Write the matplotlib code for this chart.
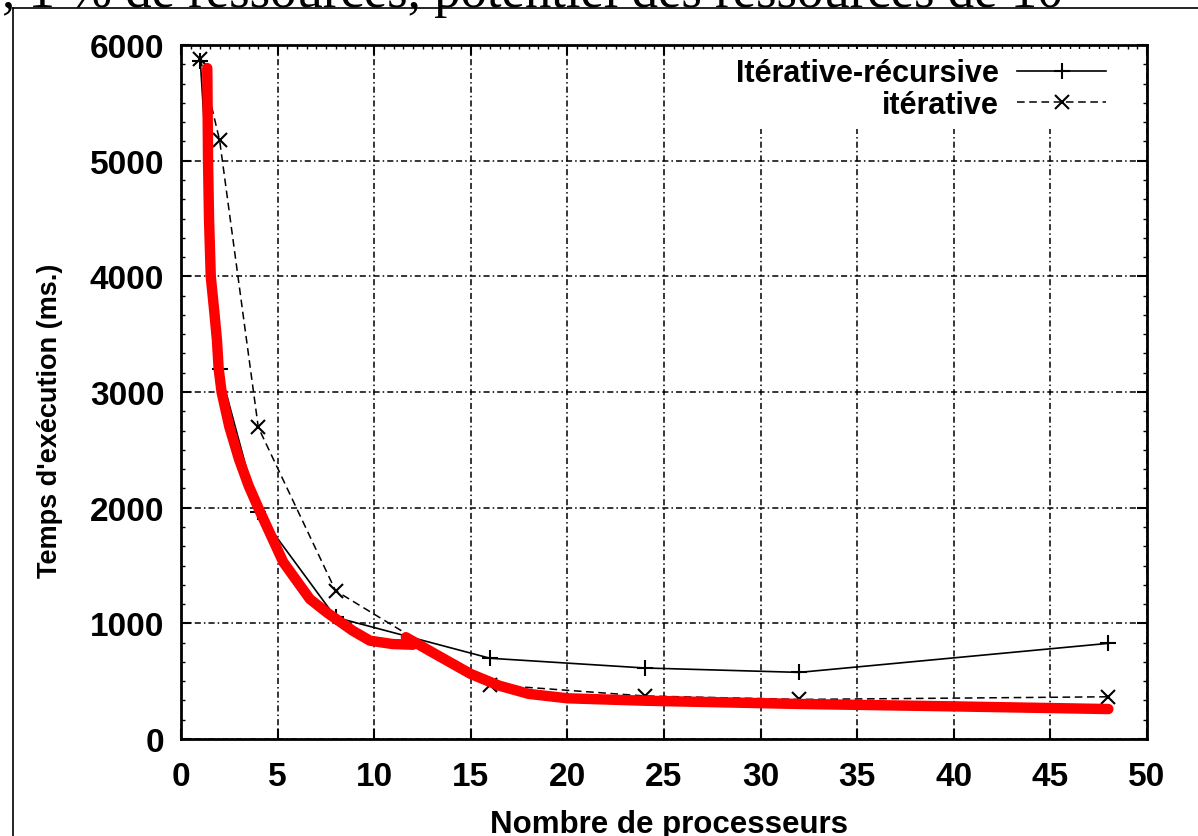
import matplotlib
matplotlib.use("Agg")
import matplotlib.pyplot as plt
from matplotlib.lines import Line2D
from matplotlib.ticker import MultipleLocator, AutoMinorLocator

# data
procs = [1, 2, 4, 8, 16, 24, 32, 48]
iter_rec = [5860, 3200, 1960, 1052, 698, 614, 576, 827]
iterative = [5880, 5175, 2695, 1282, 470, 372, 342, 365]

# hand drawn red curve, two strokes
red_x1 = [1.36, 1.40, 1.45, 1.54, 1.72, 1.86, 1.95, 2.1, 2.5, 3.0, 3.5, 4.05, 5.29, 6.67,
          7.54, 8.88, 9.78, 10.95, 12.0]
red_y1 = [5800, 5000, 4500, 4000, 3700, 3450, 3200, 3000, 2700, 2420, 2190, 1980, 1530, 1210,
          1095, 937, 850, 821, 815]
red_x2 = [11.64, 13.0, 15.0, 16.47, 18, 20, 24, 32, 40, 48]
red_y2 = [880, 750, 562, 461, 390, 352, 331, 303, 282, 259]

xticks = list(range(0, 51, 5))
yticks = list(range(0, 6001, 1000))

W, H = 1198, 837
fig = plt.figure(figsize=(W / 100, H / 100), dpi=100)
ax = fig.add_axes([181 / W, 1 - 740 / H, (1147 - 181) / W, (740 - 46) / H])

sans = ["Liberation Sans", "DejaVu Sans"]

ax.grid(True, color="black", lw=1.1, linestyle=(0, (4, 2, 1, 2)))
ax.set_axisbelow(True)

ax.plot(procs, iter_rec, color="black", lw=1.2, marker="+", ms=11, mew=1.5,
        label="Itérative-récursive")
ax.plot(procs, iterative, color="black", lw=1.1, ls=(0, (5, 3)), marker="x", ms=10, mew=1.5,
        label="itérative")

ax.plot(red_x1, red_y1, color="#ff0000", lw=7.5, solid_capstyle="round", solid_joinstyle="round")
ax.plot(red_x2, red_y2, color="#ff0000", lw=7.5, solid_capstyle="round", solid_joinstyle="round")

ax.set_xlim(0, 50)
ax.set_ylim(0, 6000)
ax.set_xticks(xticks)
ax.set_yticks(yticks)
ax.xaxis.set_minor_locator(MultipleLocator(0.5))
ax.yaxis.set_minor_locator(AutoMinorLocator(6))
ax.tick_params(which="major", direction="in", length=7, width=1.5, top=True, right=True,
               labelsize=24, pad=16)
ax.tick_params(axis="y", which="major", pad=12)
ax.tick_params(which="minor", direction="in", length=3, width=1, top=True, bottom=False,
               right=True, left=True)
for lab in ax.get_xticklabels() + ax.get_yticklabels():
    lab.set_fontfamily(sans)
    lab.set_fontweight("bold")
for s in ax.spines.values():
    s.set_linewidth(2)

leg = ax.legend(loc="upper right", bbox_to_anchor=(0.967, 0.994), borderaxespad=0,
                markerfirst=False, handlelength=2.9, handletextpad=0.6, labelspacing=0.05,
                borderpad=0.3, fancybox=False, framealpha=1, facecolor="white",
                edgecolor="none", prop={"family": sans, "weight": "bold", "size": 22})

fig.text(669 / W, 1 - 833 / H, "Nombre de processeurs", ha="center", va="baseline",
         fontsize=22.5, fontweight="bold", family=sans)
fig.text(50 / W, 1 - 421 / H, "Temps d'exécution (ms.)", ha="center", va="center",
         rotation=90, fontsize=19.5, fontweight="bold", family=sans)

# cropped caption and page frame at the top
fig.text(2 / W, 1 - 7 / H, ", 1 % de ressources, potentiel des ressources de 10",
         ha="left", va="baseline", fontsize=38, family=["Liberation Serif", "DejaVu Serif"])
fig.add_artist(Line2D([13 / W, 13 / W], [0, 1 - 9 / H], color="black", lw=1.2))
fig.add_artist(Line2D([13 / W, 1], [1 - 9 / H, 1 - 9 / H], color="black", lw=1.2))

fig.savefig("out.png", dpi=100)
